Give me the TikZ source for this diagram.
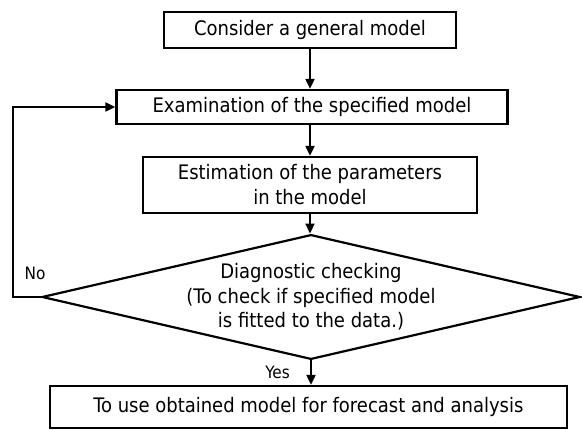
\documentclass[tikz,border=0pt]{standalone}
\usepackage{fontspec}
\setmainfont{DejaVu Sans Condensed}
\usetikzlibrary{shapes.geometric,arrows.meta}
\tikzset{
  box/.style={draw, line width=2.4pt, inner sep=0pt, align=center, font=\fontsize{20}{25}\selectfont},
  dia/.style={draw, line width=2.2pt, shape=diamond, inner sep=0pt, aspect=4.3, align=center, font=\fontsize{20}{24.5}\selectfont},
  arr/.style={line width=2.2pt, -{Triangle[length=10pt,width=9pt]}},
  lbl/.style={inner sep=0pt, font=\fontsize{17}{20}\selectfont}
}
\begin{document}
\begin{tikzpicture}[x=1pt,y=-1pt]
\useasboundingbox[fill=white] (0,0) rectangle (582,430);
\node[box, minimum width=292pt, minimum height=36pt] (b1) at (310,30) {Consider a general model};
\node[box, minimum width=391pt, minimum height=34pt] (b2) at (312,107) {Examination of the specified model};
\node[box, minimum width=334pt, minimum height=56pt] (b3) at (310,185) {Estimation of the parameters\\in the model};
\node[dia, minimum width=538pt, minimum height=123pt] (d) at (311,297) {Diagnostic checking\\(To check if specified model\\is fitted to the data.)};
\node[box, minimum width=517pt, minimum height=42pt] (b4) at (308.5,407) {To use obtained model for forecast and analysis};
\coordinate (loop) at (13,297);
\draw[arr] (b1.south) -- (b1.south |- b2.north);
\draw[arr] (b3.north |- b2.south) -- (b3.north);
\draw[arr] (b3.south) -- (b3.south |- d.north);
\draw[arr] (d.south) -- (d.south |- b4.north);
\draw[arr] (d.west) -- (loop) |- (b2.west);
\node[lbl] (no) at (35,273) {No};
\node[lbl] (yes) at (277.5,372.5) {Yes};
\end{tikzpicture}
\end{document}
